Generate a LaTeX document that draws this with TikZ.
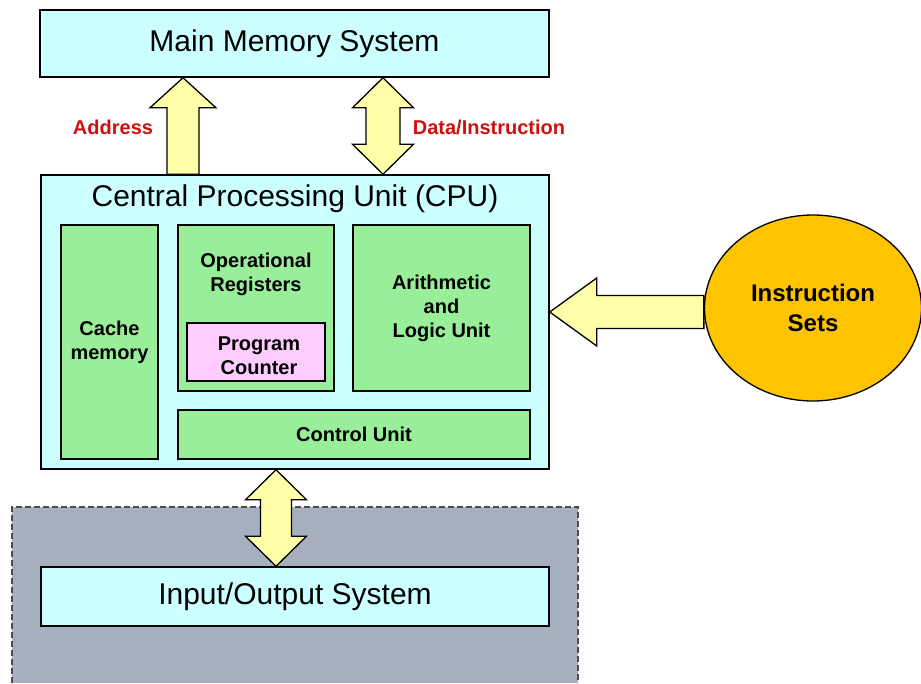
\documentclass[tikz,border=0pt]{standalone}
\usepackage{fontspec}
\setmainfont{Liberation Sans}
\usetikzlibrary{shapes.geometric,calc}

\definecolor{boxcyan}{HTML}{CCFFFF}
\definecolor{unitgreen}{HTML}{99EE99}
\definecolor{pcpink}{HTML}{FFCCFF}
\definecolor{arrowyellow}{HTML}{FFFFAA}
\definecolor{setgold}{HTML}{FFC400}
\definecolor{iogray}{HTML}{A6AFBD}
\definecolor{labelred}{HTML}{CC1111}

\tikzset{
  sysbox/.style={draw, line width=1.5pt, fill=boxcyan, inner sep=0, font=\fontsize{30}{36}\selectfont},
  unitbox/.style={draw, line width=1.2pt, fill=unitgreen, inner sep=0, align=center, font=\fontsize{20}{24}\selectfont\bfseries},
  unittext/.style={inner sep=0, align=center, font=\fontsize{20}{24}\selectfont\bfseries},
  busarrow/.style={draw, line width=1.3pt, fill=arrowyellow, line join=miter},
  buslabel/.style={inner sep=0, text=labelred, font=\fontsize{20}{24}\selectfont\bfseries}
}

\begin{document}
\begin{tikzpicture}[x=1pt,y=-1pt]
  \useasboundingbox (0,0) rectangle (921,683);

  % I/O area
  \fill[iogray] (12,507) rectangle (578,683);
  \draw[line width=1.2pt, draw=black!70, dash pattern=on 6pt off 3pt] (12,683) -- (12,507) -- (578,507) -- (578,683);

  % systems
  \node[sysbox, minimum width=509, minimum height=67] (mem) at (294.5,43.5) {Main Memory System};
  \node[sysbox, minimum width=508, minimum height=294] (cpu) at (295,322) {};
  \node[inner sep=0, font=\fontsize{30}{36}\selectfont] (cputitle) at (295,199) {Central Processing Unit (CPU)};
  \node[sysbox, minimum width=508, minimum height=59] (io) at (295,596.5) {Input/Output System};

  % units inside the CPU
  \node[unitbox, minimum width=97, minimum height=234] (cache) at (109.5,342) {Cache\\memory};
  \node[unitbox, minimum width=156, minimum height=166] (opreg) at (256,308) {};
  \node[unittext] (opregtext) at (256,274) {Operational\\Registers};
  \node[unitbox, fill=pcpink, minimum width=138, minimum height=58] (pc) at (256,352) {};
  \node[unittext] (pctext) at (259,356) {Program\\Counter};
  \node[unitbox, minimum width=177, minimum height=166] (alu) at (441.5,308) {Arithmetic\\and\\Logic Unit};
  \node[unitbox, minimum width=352, minimum height=49] (ctrl) at (354,434.5) {Control Unit};

  % instruction sets
  \coordinate (instry) at (0,312);
  \node[draw, line width=1.3pt, fill=setgold, ellipse, minimum width=217, minimum height=186, inner sep=0,
        align=center, font=\fontsize{24}{30}\selectfont\bfseries] (instr) at (813,308) {Instruction\\Sets};

  % buses
  \coordinate (addrx) at (183,0);
  \coordinate (datax) at (383,0);
  \coordinate (iox) at (276,0);
  \draw[busarrow] (mem.south -| addrx) -- ++(33,30) -- ++(-17,0) -- ($(cpu.north -| addrx)+(16,0)$)
    -- ++(-32,0) -- ($(mem.south -| addrx)+(-16,30)$) -- ++(-17,0) -- cycle;
  \draw[busarrow] (mem.south -| datax) -- ++(30.5,30) -- ++(-13.5,0) -- ($(cpu.north -| datax)+(17,-30)$)
    -- ++(13.5,0) -- (cpu.north -| datax) -- ++(-30.5,-30) -- ++(13.5,0)
    -- ($(mem.south -| datax)+(-17,30)$) -- ++(-13.5,0) -- cycle;
  \draw[busarrow] (cpu.south -| iox) -- ++(30.5,30) -- ++(-15,0) -- ($(io.north -| iox)+(15.5,-30)$)
    -- ++(15,0) -- (io.north -| iox) -- ++(-30.5,-30) -- ++(15,0)
    -- ($(cpu.south -| iox)+(-15.5,30)$) -- ++(-15,0) -- cycle;
  \draw[busarrow] (cpu.east |- instry) -- ++(47,-34) -- ++(0,17.5) -- ($(instr.west |- instry)+(0,-16.5)$)
    -- ++(0,33) -- ($(cpu.east |- instry)+(47,16.5)$) -- ++(0,17.5) -- cycle;

  \node[buslabel] (addrlabel) at (113,127) {Address};
  \node[buslabel] (datalabel) at (489,127) {Data/Instruction};
\end{tikzpicture}
\end{document}
